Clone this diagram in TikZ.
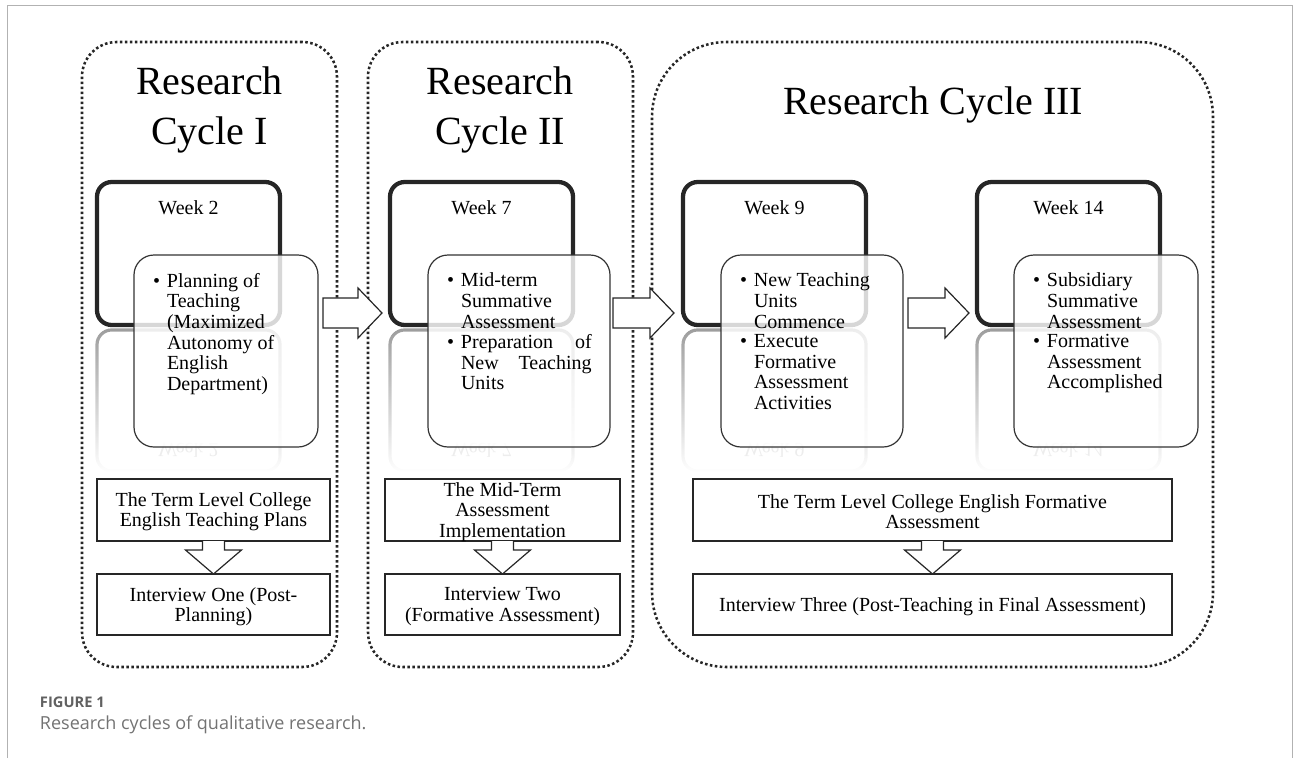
\documentclass[tikz,border=0pt]{standalone}
\usepackage{fontspec}
\setmainfont{Liberation Serif}
\newfontfamily\capfont{Open Sans}
\usetikzlibrary{fit,calc,fadings}

\tikzfading[name=mirrorfade, top color=transparent!15, middle color=transparent!85, bottom color=transparent!100]
\newcommand{\bitem}[1]{\makebox[10.5pt][l]{\textbullet}\parbox[t]{98pt}{#1}}

\begin{document}
\begin{tikzpicture}[x=0.75pt, y=-0.75pt,
  every node/.style={inner sep=0pt, outer sep=0pt},
  cyclebox/.style={draw=black!85, line width=1.9pt, dash pattern=on 1.9pt off 1.85pt, rounded corners=26pt},
  cycletitle/.style={font=\fontsize{30}{36}\selectfont, anchor=base},
  weekbox/.style={draw=black!85, line width=3.2pt, rounded corners=11pt},
  weeklabel/.style={font=\fontsize{15}{18}\selectfont, anchor=base},
  mirrorbox/.style={draw=black!45, line width=2.4pt, rounded corners=11pt, path fading=mirrorfade},
  mirrortext/.style={font=\fontsize{15}{18}\selectfont, text=black!7, anchor=base},
  itembox/.style={draw=black!80, line width=0.9pt, rounded corners=15pt, fill=white, fill opacity=0.82},
  itemtext/.style={font=\fontsize{15}{15.5}\selectfont, align=left, anchor=north west},
  stagebox/.style={draw=black!85, line width=0.9pt},
  stagetext/.style={align=center, font=\fontsize{15}{15.2}\selectfont},
  hollow/.style={draw=black!85, line width=0.9pt, fill=white, line join=miter},
]
\useasboundingbox (0,0) rectangle (1293,758);

% page frame
\draw[black!30, line width=0.75pt] (7,758) -- (7,5) -- (1292,5) -- (1292,758);

% the three research cycles
\node[cyclebox, fit={(82,42) (337,667)}] (cyc1) {};
\node[cyclebox, fit={(368,42) (633,667)}] (cyc2) {};
\node[cyclebox, rounded corners=56pt, fit={(652,42) (1213,667)}] (cyc3) {};
\node[cycletitle] (cyc1a) at (209.5,94) {Research};
\node[cycletitle] (cyc1b) at (209.5,144) {Cycle I};
\node[cycletitle] (cyc2a) at (500,94) {Research};
\node[cycletitle] (cyc2b) at (500,144) {Cycle II};
\node[cycletitle] (cyc3a) at (933,114) {Research Cycle III};

% week boxes
\node[weekbox, fit={(97,182) (280,325)}] (w2) {};
\node[weekbox, fit={(390,182) (573,325)}] (w7) {};
\node[weekbox, fit={(683,182) (866,325)}] (w9) {};
\node[weekbox, fit={(977,182) (1160,325)}] (w14) {};
\node[weeklabel] (w2l) at ($(w2.north)+(0,32)$) {Week 2};
\node[weeklabel] (w7l) at ($(w7.north)+(0,32)$) {Week 7};
\node[weeklabel] (w9l) at ($(w9.north)+(0,32)$) {Week 9};
\node[weeklabel] (w14l) at ($(w14.north)+(0,32)$) {Week 14};

% reflections under the week boxes
\draw[mirrorbox] ($(w2.south west)+(0,5)$) rectangle ($(w2.south east)+(0,146)$);
\draw[mirrorbox] ($(w7.south west)+(0,5)$) rectangle ($(w7.south east)+(0,146)$);
\draw[mirrorbox] ($(w9.south west)+(0,5)$) rectangle ($(w9.south east)+(0,146)$);
\draw[mirrorbox] ($(w14.south west)+(0,5)$) rectangle ($(w14.south east)+(0,146)$);
\node[mirrortext] (w2m) at ($(w2.south)+(0,118)$) {\scalebox{1}[-1]{Week 2}};
\node[mirrortext] (w7m) at ($(w7.south)+(0,118)$) {\scalebox{1}[-1]{Week 7}};
\node[mirrortext] (w9m) at ($(w9.south)+(0,118)$) {\scalebox{1}[-1]{Week 9}};
\node[mirrortext] (w14m) at ($(w14.south)+(0,118)$) {\scalebox{1}[-1]{Week 14}};

% activity boxes
\node[itembox, fit={(134,255) (318,447)}] (c2) {};
\node[itembox, fit={(428,255) (610,447)}] (c7) {};
\node[itembox, fit={(721,255) (903,447)}] (c9) {};
\node[itembox, fit={(1014,255) (1198,447)}] (c14) {};
\node[itemtext] (c2t) at ($(c2.north west)+(19,18)$)
  {\bitem{Planning of\\Teaching\\(Maximized\\Autonomy of\\English\\Department)}};
\node[itemtext] (c7t) at ($(c7.north west)+(19,18)$)
  {\bitem{Mid-term\\Summative\\Assessment}\\[3.5pt]\bitem{Preparation\hfill of\\New\hfill Teaching\\Units}};
\node[itemtext] (c9t) at ($(c9.north west)+(19,18)$)
  {\bitem{New Teaching\\Units\\Commence}\\[3.5pt]\bitem{Execute\\Formative\\Assessment\\Activities}};
\node[itemtext] (c14t) at ($(c14.north west)+(19,18)$)
  {\bitem{Subsidiary\\Summative\\Assessment}\\[3.5pt]\bitem{Formative\\Assessment\\Accomplished}};

% arrows between the weeks
\coordinate (a1) at (323,313);
\coordinate (b1) at (382,313);
\coordinate (a2) at (613,313);
\coordinate (b2) at (674,313);
\coordinate (a3) at (908,313);
\coordinate (b3) at (969,313);
\draw[hollow] ($(a1)+(0,-15)$) -- ($(b1)+(-24,-15)$) -- ($(b1)+(-24,-25)$) -- (b1) -- ($(b1)+(-24,25)$) -- ($(b1)+(-24,15)$) -- ($(a1)+(0,15)$) -- cycle;
\draw[hollow] ($(a2)+(0,-15)$) -- ($(b2)+(-24,-15)$) -- ($(b2)+(-24,-25)$) -- (b2) -- ($(b2)+(-24,25)$) -- ($(b2)+(-24,15)$) -- ($(a2)+(0,15)$) -- cycle;
\draw[hollow] ($(a3)+(0,-15)$) -- ($(b3)+(-24,-15)$) -- ($(b3)+(-24,-25)$) -- (b3) -- ($(b3)+(-24,25)$) -- ($(b3)+(-24,15)$) -- ($(a3)+(0,15)$) -- cycle;

% plans and interviews
\node[stagebox, fit={(97,479) (330,541)}] (s1) {};
\node[stagebox, fit={(97,574) (330,635)}] (v1) {};
\node[stagebox, fit={(385,479) (620,541)}] (s2) {};
\node[stagebox, fit={(385,574) (620,635)}] (v2) {};
\node[stagebox, fit={(693,479) (1172,541)}] (s3) {};
\node[stagebox, fit={(693,574) (1172,635)}] (v3) {};
\node[stagetext] (s1t) at ($(s1.center)+(0,2)$) {The Term Level College\\English Teaching Plans};
\node[stagetext] (v1t) at ($(v1.center)+(0,2)$) {Interview One (Post-\\Planning)};
\node[stagetext] (s2t) at ($(s2.center)+(0,2)$) {The Mid-Term\\Assessment\\Implementation};
\node[stagetext] (v2t) at ($(v2.center)+(0,2)$) {Interview Two\\(Formative Assessment)};
\node[stagetext] (s3t) at ($(s3.center)+(0,2)$) {The Term Level College English Formative\\Assessment};
\node[stagetext] (v3t) at ($(v3.center)+(0,2)$) {Interview Three (Post-Teaching in Final Assessment)};
\draw[hollow] ($(s1.south)+(-11,0)$) -- ++(0,9) -- ++(-17,0) -- (v1.north) -- ($(s1.south)+(28,9)$) -- ++(-17,0) -- ++(0,-9);
\draw[hollow] ($(s2.south)+(-11,0)$) -- ++(0,9) -- ++(-17,0) -- (v2.north) -- ($(s2.south)+(28,9)$) -- ++(-17,0) -- ++(0,-9);
\draw[hollow] ($(s3.south)+(-11,0)$) -- ++(0,9) -- ++(-17,0) -- (v3.north) -- ($(s3.south)+(28,9)$) -- ++(-17,0) -- ++(0,-9);

% caption
\node[anchor=base west, font=\capfont\bfseries\fontsize{11}{13}\selectfont, text=black!62] (fig) at (40,707) {FIGURE 1};
\node[anchor=base west, font=\capfont\fontsize{13.5}{16}\selectfont, text=black!55] (cap) at (40,729) {Research cycles of qualitative research.};
\end{tikzpicture}
\end{document}
